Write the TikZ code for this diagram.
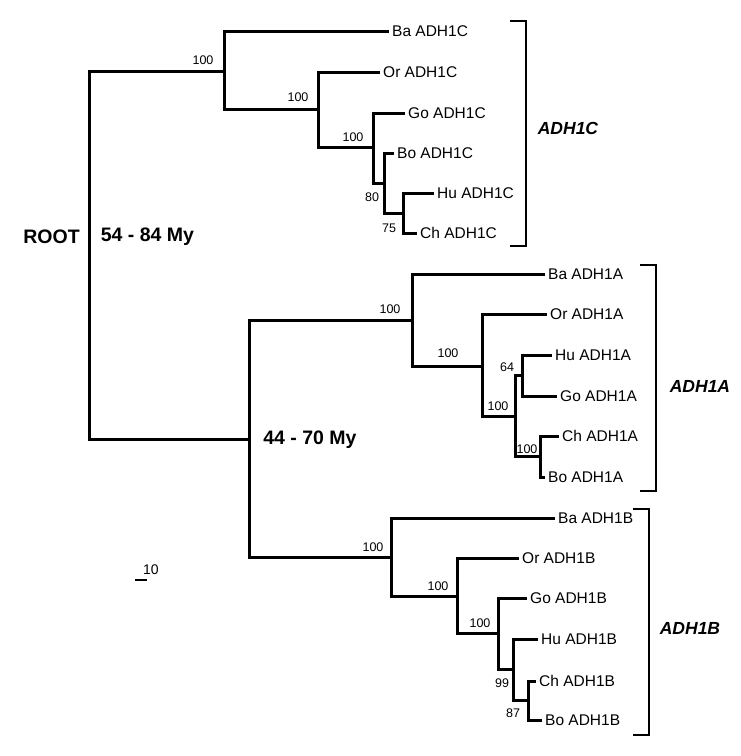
\documentclass[tikz,border=0pt]{standalone}
\usepackage{fontspec}
\setmainfont{Liberation Sans}
\begin{document}
\begin{tikzpicture}[x=1pt,y=-1pt,
  br/.style={line width=3pt,line cap=rect},
  brk/.style={line width=2pt},
  leaf/.style={anchor=west,inner xsep=5pt,inner ysep=0pt,text height=11pt,text depth=0pt,font=\fontsize{15.5}{15.5}\selectfont},
  bs/.style={inner sep=0pt,font=\fontsize{12.5}{12.5}\selectfont},
  big/.style={inner sep=0pt,font=\fontsize{19.5}{19.5}\selectfont\bfseries},
  grp/.style={inner sep=0pt,font=\fontsize{17.5}{17.5}\selectfont\bfseries\itshape}]
\useasboundingbox (0,0) rectangle (740,756);
% internal nodes
\coordinate (R) at (89.5,255);
\coordinate (C0) at (224,71);
\coordinate (C1) at (318,109);
\coordinate (C2) at (373,147);
\coordinate (C3) at (384,183);
\coordinate (C4) at (403,213);
\coordinate (M) at (249,439);
\coordinate (A0) at (412,320);
\coordinate (A1) at (482,366);
\coordinate (A2) at (515,416);
\coordinate (A3) at (522,375.5);
\coordinate (A4) at (540,456.5);
\coordinate (B0) at (391,557);
\coordinate (B1) at (457,596);
\coordinate (B2) at (498,633);
\coordinate (B3) at (513,669.5);
\coordinate (B4) at (528,700.5);
% leaves
\node[leaf] (BaC) at (387,31) {Ba ADH1C};
\node[leaf] (OrC) at (378,72) {Or ADH1C};
\node[leaf] (GoC) at (403,113) {Go ADH1C};
\node[leaf] (BoC) at (392,153) {Bo ADH1C};
\node[leaf] (HuC) at (432,193) {Hu ADH1C};
\node[leaf] (ChC) at (415,233) {Ch ADH1C};
\node[leaf] (BaA) at (543,274) {Ba ADH1A};
\node[leaf] (OrA) at (545,314) {Or ADH1A};
\node[leaf] (HuA) at (550,355) {Hu ADH1A};
\node[leaf] (GoA) at (555,396) {Go ADH1A};
\node[leaf] (ChA) at (557,436) {Ch ADH1A};
\node[leaf] (BoA) at (543,477) {Bo ADH1A};
\node[leaf] (BaB) at (553,518) {Ba ADH1B};
\node[leaf] (OrB) at (517,558) {Or ADH1B};
\node[leaf] (GoB) at (525,598) {Go ADH1B};
\node[leaf] (HuB) at (536,639) {Hu ADH1B};
\node[leaf] (ChB) at (534,681) {Ch ADH1B};
\node[leaf] (BoB) at (540,720) {Bo ADH1B};
% branches
\draw[br] (R) |- (C0);
\draw[br] (R) |- (M);
\draw[br] (C0) |- (BaC.west);
\draw[br] (C0) |- (C1);
\draw[br] (C1) |- (OrC.west);
\draw[br] (C1) |- (C2);
\draw[br] (C2) |- (GoC.west);
\draw[br] (C2) |- (C3);
\draw[br] (C3) |- (BoC.west);
\draw[br] (C3) |- (C4);
\draw[br] (C4) |- (HuC.west);
\draw[br] (C4) |- (ChC.west);
\draw[br] (M) |- (A0);
\draw[br] (M) |- (B0);
\draw[br] (A0) |- (BaA.west);
\draw[br] (A0) |- (A1);
\draw[br] (A1) |- (OrA.west);
\draw[br] (A1) |- (A2);
\draw[br] (A2) |- (A3);
\draw[br] (A2) |- (A4);
\draw[br] (A3) |- (HuA.west);
\draw[br] (A3) |- (GoA.west);
\draw[br] (A4) |- (ChA.west);
\draw[br] (A4) |- (BoA.west);
\draw[br] (B0) |- (BaB.west);
\draw[br] (B0) |- (B1);
\draw[br] (B1) |- (OrB.west);
\draw[br] (B1) |- (B2);
\draw[br] (B2) |- (GoB.west);
\draw[br] (B2) |- (B3);
\draw[br] (B3) |- (HuB.west);
\draw[br] (B3) |- (B4);
\draw[br] (B4) |- (ChB.west);
\draw[br] (B4) |- (BoB.west);
% bootstrap values
\node[bs] (s1) at (203,60) {100};
\node[bs] (s2) at (298,97) {100};
\node[bs] (s3) at (353,137) {100};
\node[bs] (s4) at (372,197) {80};
\node[bs] (s5) at (389,228) {75};
\node[bs] (s6) at (390,309) {100};
\node[bs] (s7) at (448,353) {100};
\node[bs] (s8) at (498,406) {100};
\node[bs] (s9) at (507,367) {64};
\node[bs] (s10) at (527,449) {100};
\node[bs] (s11) at (373,547) {100};
\node[bs] (s12) at (438,586) {100};
\node[bs] (s13) at (480,623) {100};
\node[bs] (s14) at (502,683) {99};
\node[bs] (s15) at (513,713) {87};
% big labels
\node[big] (root) at (51.5,237) {ROOT};
\node[big] (d1) at (147.5,237) {54 - 84 My};
\node[big] (d2) at (310,440) {44 - 70 My};
% brackets
\draw[brk] (510,21) -- (526,21) -- (526,246) -- (510,246);
\draw[brk] (640,265) -- (656,265) -- (656,491) -- (640,491);
\draw[brk] (633,509) -- (649,509) -- (649,735) -- (633,735);
\node[grp] (gC) at (568,128) {ADH1C};
\node[grp] (gA) at (700,386) {ADH1A};
\node[grp] (gB) at (690,628) {ADH1B};
% scale bar
\draw[line width=2.5pt] (135,580) -- (147,580);
\node[inner sep=0pt,font=\fontsize{14}{14}\selectfont] (sc) at (151,570) {10};
\end{tikzpicture}
\end{document}
